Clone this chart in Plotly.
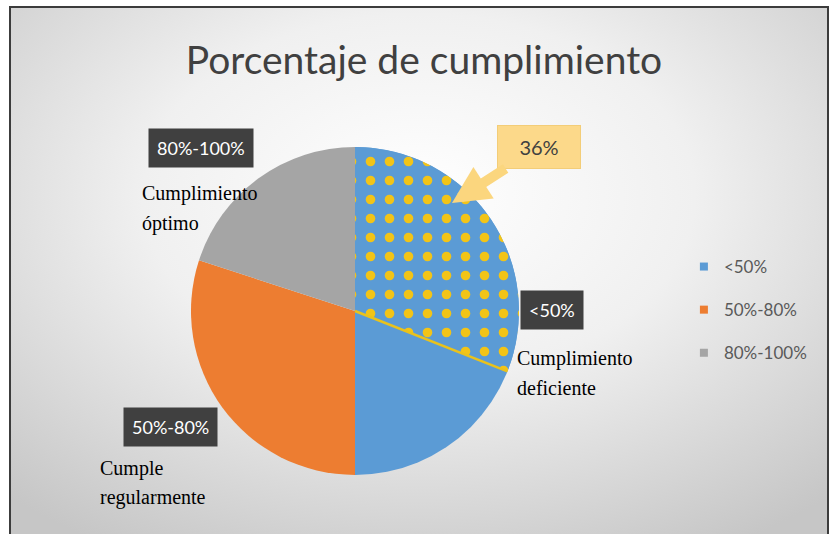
import base64
import math
import plotly.graph_objects as go

# data
categories = ["<50%", "50%-80%", "80%-100%"]
values = [50, 30, 20]
colors = ["#5b9bd5", "#ed7d31", "#a5a5a5"]
highlight_value = 31          # dotted part of the "<50%" slice
highlight_label = "36%"
descriptions = {
    "<50%": ["Cumplimiento", "deficiente"],
    "50%-80%": ["Cumple", "regularmente"],
    "80%-100%": ["Cumplimiento", "óptimo"],
}

W, H = 832, 534
cx, cy, r = 355, 311, 164   # pie centre / radius in pixels

dom_x = [(cx - r) / W, (cx + r) / W]
dom_y = [1 - (cy + r) / H, 1 - (cy - r) / H]

# background: radial gradient inside a dark frame
svg = f"""<svg xmlns='http://www.w3.org/2000/svg' width='{W}' height='{H}' viewBox='0 0 {W} {H}'>
<defs><radialGradient id='g' cx='0.5' cy='0.35' r='0.75'>
<stop offset='0' stop-color='#ffffff'/><stop offset='0.45' stop-color='#f0f0f0'/>
<stop offset='1' stop-color='#c6c6c6'/></radialGradient></defs>
<rect x='0' y='0' width='{W}' height='{H}' fill='#ffffff'/>
<rect x='10' y='7' width='818' height='540' fill='url(#g)' stroke='#3c3c3c' stroke-width='2'/>
</svg>"""
bg_src = "data:image/svg+xml;base64," + base64.b64encode(svg.encode()).decode()

fig = go.Figure()

fig.add_trace(go.Pie(
    labels=categories, values=values, sort=False, direction="clockwise",
    rotation=0, marker=dict(colors=colors, line=dict(width=0)),
    textinfo="none", showlegend=False, domain=dict(x=dom_x, y=dom_y),
))

# dotted overlay on the first part of "<50%"
fig.add_trace(go.Pie(
    labels=["dots", "rest"], values=[highlight_value, sum(values) - highlight_value],
    sort=False, direction="clockwise", rotation=0, textinfo="none", showlegend=False,
    hoverinfo="skip",
    marker=dict(colors=[colors[0], "rgba(0,0,0,0)"], line=dict(width=0),
                pattern=dict(shape=[".", ""], fgcolor="#f2c417", bgcolor=[colors[0], "rgba(0,0,0,0)"],
                             size=19, solidity=0.2, fillmode="replace")),
    domain=dict(x=dom_x, y=dom_y),
))

# legend entries
for lab, col in zip(categories, colors):
    fig.add_trace(go.Scatter(x=[None], y=[None], mode="markers", name=lab, legendgroup=lab,
                             marker=dict(symbol="square", size=8, color=col)))

# yellow separator at end of dotted part
ang = math.radians(360 * highlight_value / sum(values))
ex, ey = cx + r * math.sin(ang), cy - r * math.cos(ang)
fig.add_shape(type="line", xref="paper", yref="paper",
              x0=cx / W, y0=1 - cy / H, x1=ex / W, y1=1 - ey / H,
              line=dict(color="#e9c21c", width=2.5))

annotations = []
# dark label boxes + serif descriptions
label_pos = {"<50%": (552, 310, 515, 358), "50%-80%": (170, 427, 98, 468),
             "80%-100%": (201, 148, 140, 193)}
for lab in categories:
    bx, by, tx, ty = label_pos[lab]
    annotations.append(dict(x=bx / W, y=1 - by / H, xref="paper", yref="paper", text=lab, showarrow=False,
                            xanchor="center", yanchor="middle",
                            font=dict(family="Lato", size=18, color="white"),
                            bgcolor="#404040", borderpad=8))
    for i, line in enumerate(descriptions[lab]):
        annotations.append(dict(x=tx / W, y=1 - (ty + i * 30) / H, xref="paper", yref="paper",
                                text=line, showarrow=False, xanchor="left", yanchor="middle",
                                font=dict(family="Liberation Serif", size=20, color="black")))

# callout
annotations.append(dict(x=452 / W, y=1 - 203 / H, xref="paper", yref="paper", text=highlight_label,
                        showarrow=True, ax=87, ay=-56, arrowcolor="#fbd67e", arrowwidth=10,
                        arrowhead=2, arrowsize=0.75,
                        font=dict(family="Lato", size=20, color="#404040"),
                        bgcolor="#fcd98a", bordercolor="#f3cd78", borderwidth=1, borderpad=9,
                        width=64))

fig.update_layout(
    width=W, height=H, margin=dict(l=0, r=0, t=0, b=0),
    paper_bgcolor="white", plot_bgcolor="rgba(0,0,0,0)",
    title=dict(text="Porcentaje de cumplimiento", x=424 / W, xanchor="center", y=1 - 60 / H, yanchor="middle",
               font=dict(family="Lato", size=39, color="#404040")),
    images=[dict(source=bg_src, xref="paper", yref="paper", x=0, y=1, sizex=1, sizey=1,
                 sizing="stretch", layer="below")],
    xaxis=dict(visible=False), yaxis=dict(visible=False),
    legend=dict(x=0.822, y=1 - 310 / H, yanchor="middle", tracegroupgap=18,
                font=dict(family="Lato", size=17, color="#595959"), bgcolor="rgba(0,0,0,0)"),
    annotations=annotations,
)

fig.write_html("out.html", config={"displayModeBar": False},
               post_script="document.body.style.margin='0';")
